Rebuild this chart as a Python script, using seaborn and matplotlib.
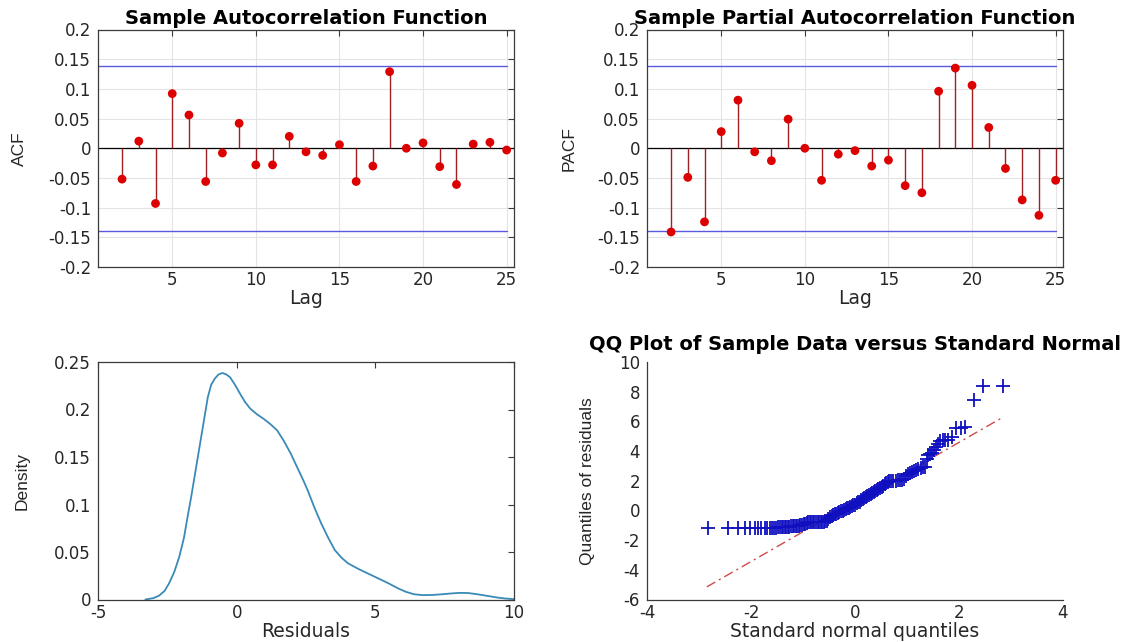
import numpy as np
import matplotlib
matplotlib.use("Agg")
import matplotlib.pyplot as plt
import seaborn as sns
from matplotlib.ticker import FuncFormatter

# ---------------- data ----------------
lags = list(range(2, 26))
acf_vals = [-0.052, 0.012, -0.093, 0.092, 0.056, -0.056, -0.008, 0.042, -0.028, -0.028,
            0.020, -0.006, -0.012, 0.006, -0.056, -0.030, 0.129, 0.000, 0.009, -0.031,
            -0.061, 0.007, 0.010, -0.003]
pacf_vals = [-0.141, -0.049, -0.124, 0.028, 0.081, -0.006, -0.021, 0.049, 0.000, -0.054,
             -0.010, -0.004, -0.030, -0.020, -0.063, -0.075, 0.096, 0.135, 0.106, 0.035,
             -0.034, -0.087, -0.113, -0.054]
conf_bound = 0.139

dens_x = [-3.29, -3.0, -2.8, -2.6, -2.44, -2.25, -2.07, -1.9, -1.77, -1.64, -1.52, -1.40,
          -1.28, -1.16, -1.04, -0.92, -0.79, -0.65, -0.51, -0.38, -0.24, -0.06, 0.12, 0.30,
          0.49, 0.73, 0.98, 1.22, 1.46, 1.70, 1.95, 2.20, 2.41, 2.56, 2.80, 3.05, 3.30, 3.54,
          3.78, 4.02, 4.40, 4.76, 5.12, 5.49, 5.80, 6.10, 6.40, 6.71, 7.07, 7.44, 7.75, 8.05,
          8.35, 8.66, 9.0, 9.39, 9.7, 10.0]
dens_y = [0.0, 0.0015, 0.004, 0.009, 0.0168, 0.029, 0.0449, 0.065, 0.087, 0.108, 0.129, 0.150,
          0.171, 0.192, 0.213, 0.226, 0.2325, 0.237, 0.2384, 0.237, 0.234, 0.226, 0.2167, 0.208,
          0.2009, 0.195, 0.190, 0.1845, 0.178, 0.167, 0.1536, 0.138, 0.125, 0.115, 0.097, 0.080,
          0.065, 0.052, 0.044, 0.038, 0.032, 0.027, 0.022, 0.0168, 0.012, 0.0081, 0.0055, 0.0046,
          0.0048, 0.0056, 0.0064, 0.0070, 0.0068, 0.0056, 0.0040, 0.0021, 0.0010, 0.0004]

qq_x = [-2.82, -2.45, -2.25, -2.12, -2.02, -1.93, -1.86, -1.80, -1.74, -1.69, -1.64, -1.59,
        -1.55, -1.51, -1.48, -1.44, -1.41, -1.38, -1.35, -1.32, -1.29, -1.26, -1.23, -1.20,
        -1.17, -1.14, -1.11, -1.08, -1.05, -1.02,
        -0.99, -0.96, -0.93, -0.90, -0.87, -0.84, -0.81, -0.78, -0.75, -0.72, -0.69, -0.66,
        -0.63, -0.60, -0.57,
        -0.54, -0.51, -0.48, -0.45, -0.42, -0.39, -0.36, -0.33, -0.30, -0.27, -0.24, -0.21,
        -0.18, -0.15, -0.12, -0.09, -0.06, -0.03, 0.00, 0.03, 0.06, 0.09, 0.12, 0.15, 0.18,
        0.21, 0.24, 0.27, 0.30, 0.33, 0.36, 0.39, 0.42, 0.45, 0.48, 0.51, 0.54, 0.57, 0.60,
        0.63, 0.66, 0.70, 0.74, 0.78, 0.82, 0.86, 0.90, 0.94,
        0.98, 1.02, 1.06, 1.10, 1.14, 1.18, 1.22, 1.26, 1.30, 1.34,
        1.38, 1.41, 1.45, 1.48, 1.52, 1.56, 1.60, 1.64, 1.69, 1.74, 1.79, 1.86, 1.95, 2.03,
        2.12, 2.28, 2.46, 2.85]
qq_y = [-1.21, -1.21, -1.20, -1.20, -1.19, -1.19, -1.18, -1.18, -1.17, -1.17, -1.16, -1.16,
        -1.15, -1.15, -1.14, -1.14, -1.13, -1.13, -1.12, -1.11, -1.10, -1.09, -1.08, -1.07,
        -1.06, -1.05, -1.04, -1.02, -1.00, -0.97,
        -0.93, -0.88, -0.83, -0.80, -0.79, -0.78, -0.78, -0.77, -0.77, -0.77, -0.76, -0.76,
        -0.75, -0.75, -0.73,
        -0.68, -0.55, -0.45, -0.38, -0.32, -0.27, -0.22, -0.16, -0.11, -0.06, -0.01, 0.04,
        0.09, 0.14, 0.19, 0.23, 0.28, 0.34, 0.40, 0.47, 0.54, 0.60, 0.68, 0.76, 0.83,
        0.89, 0.95, 1.02, 1.10, 1.17, 1.24, 1.31, 1.38, 1.45, 1.53, 1.60, 1.67, 1.75, 1.85,
        1.93, 1.97, 1.99, 2.00, 2.01, 2.02, 2.03, 2.05, 2.15,
        2.35, 2.45, 2.52, 2.60, 2.66, 2.72, 2.78, 2.84, 2.90, 2.95,
        3.45, 3.75, 3.82, 3.86, 4.05, 4.25, 4.45, 4.68, 4.72, 4.74, 4.76, 4.95, 5.55, 5.58,
        5.60, 7.42, 8.36, 8.36]
qq_line_x = [-2.85, 2.85]
qq_line_y = [-5.15, 6.29]

stem_ticks_x = [5, 10, 15, 20, 25]
stem_ticks_y = [-0.2, -0.15, -0.1, -0.05, 0, 0.05, 0.1, 0.15, 0.2]
dens_ticks_x = [-5, 0, 5, 10]
dens_ticks_y = [0, 0.05, 0.1, 0.15, 0.2, 0.25]
qq_ticks_x = [-4, -2, 0, 2, 4]
qq_ticks_y = [-6, -4, -2, 0, 2, 4, 6, 8, 10]

# ---------------- styling ----------------
sns.set_style("white")
plt.rcParams["font.family"] = ["DejaVu Sans"]
plt.rcParams["axes.unicode_minus"] = False

W, H = 1138, 642
fig = plt.figure(figsize=(W / 100, H / 100), dpi=100)


def rect(l, t, r, b):
    return [l / W, 1 - b / H, (r - l) / W, (b - t) / H]


ax1 = fig.add_axes(rect(98, 29.5, 514, 267))
ax2 = fig.add_axes(rect(647, 29.5, 1063, 267))
ax3 = fig.add_axes(rect(98, 362, 514, 599.5))
ax4 = fig.add_axes(rect(647, 362, 1063, 599.5))

fmt = FuncFormatter(lambda v, p: "%g" % round(v, 4))
SPINE = "#3a3a3a"
TXT = "#262626"


def style(ax, box=True):
    for name, sp in ax.spines.items():
        sp.set_color(SPINE)
        sp.set_linewidth(0.9)
        if not box and name in ("top", "right"):
            sp.set_visible(False)
    ax.tick_params(direction="in", length=4, width=0.8, color=SPINE,
                   labelsize=12, labelcolor=TXT, top=box, right=box)
    ax.tick_params(axis="x", pad=3)
    ax.tick_params(axis="y", pad=5)
    ax.xaxis.set_major_formatter(fmt)
    ax.yaxis.set_major_formatter(fmt)


def ylab(ax, text, xpos):
    ax.set_ylabel(text, family=["Liberation Sans", "DejaVu Sans"], fontsize=12.5, color=TXT)
    ax.yaxis.set_label_coords(xpos, 0.5)


def xlab(ax, text):
    ax.set_xlabel(text, fontsize=13.5, color=TXT, labelpad=0)


def stem_panel(ax, vals, ylabel, title):
    style(ax, True)
    ax.grid(True, color="#e4e4e4", lw=0.8)
    ax.set_axisbelow(True)
    ax.axhline(0, color="black", lw=0.9, zorder=2)
    ax.vlines(lags, 0, vals, color="#a32020", lw=1.0, zorder=3)
    bx = [0, max(lags)]
    sns.lineplot(x=bx, y=[conf_bound, conf_bound], color="#5a5ae0", lw=1.0, ax=ax, zorder=2)
    sns.lineplot(x=bx, y=[-conf_bound, -conf_bound], color="#5a5ae0", lw=1.0, ax=ax, zorder=2)
    sns.scatterplot(x=lags, y=vals, color="#dd0000", s=40, edgecolor="none", zorder=4, ax=ax)
    ax.set_xlim(0.56, 25.44)
    ax.set_ylim(-0.2, 0.2)
    ax.set_xticks(stem_ticks_x)
    ax.set_yticks(stem_ticks_y)
    ax.set_title(title, fontsize=14, fontweight="bold", color="black", pad=4)
    xlab(ax, "Lag")
    ylab(ax, ylabel, -0.17)


stem_panel(ax1, acf_vals, "ACF", "Sample Autocorrelation Function")
stem_panel(ax2, pacf_vals, "PACF", "Sample Partial Autocorrelation Function")

# density
style(ax3, True)
sns.lineplot(x=dens_x, y=dens_y, color="#3a8ab8", lw=1.3, ax=ax3)
ax3.set_xlim(-5, 10)
ax3.set_ylim(0, 0.25)
ax3.set_xticks(dens_ticks_x)
ax3.set_yticks(dens_ticks_y)
xlab(ax3, "Residuals")
ylab(ax3, "Density", -0.165)

# QQ plot
style(ax4, False)
sns.lineplot(x=qq_line_x, y=qq_line_y, color="#d04a4a", lw=1.0, ax=ax4, zorder=2)
ax4.lines[-1].set_dashes([7, 3, 1.5, 3])
sns.scatterplot(x=qq_x, y=qq_y, marker="+", s=95, color="#1010c0", linewidth=1.3,
                ax=ax4, zorder=3)
ax4.set_xlim(-4, 4)
ax4.set_ylim(-6, 10)
ax4.set_xticks(qq_ticks_x)
ax4.set_yticks(qq_ticks_y)
ax4.set_title("QQ Plot of Sample Data versus Standard Normal", fontsize=14,
              fontweight="bold", color="black", pad=9)
xlab(ax4, "Standard normal quantiles")
ylab(ax4, "Quantiles of residuals", -0.125)

fig.savefig("out.png", dpi=100, facecolor="white")
